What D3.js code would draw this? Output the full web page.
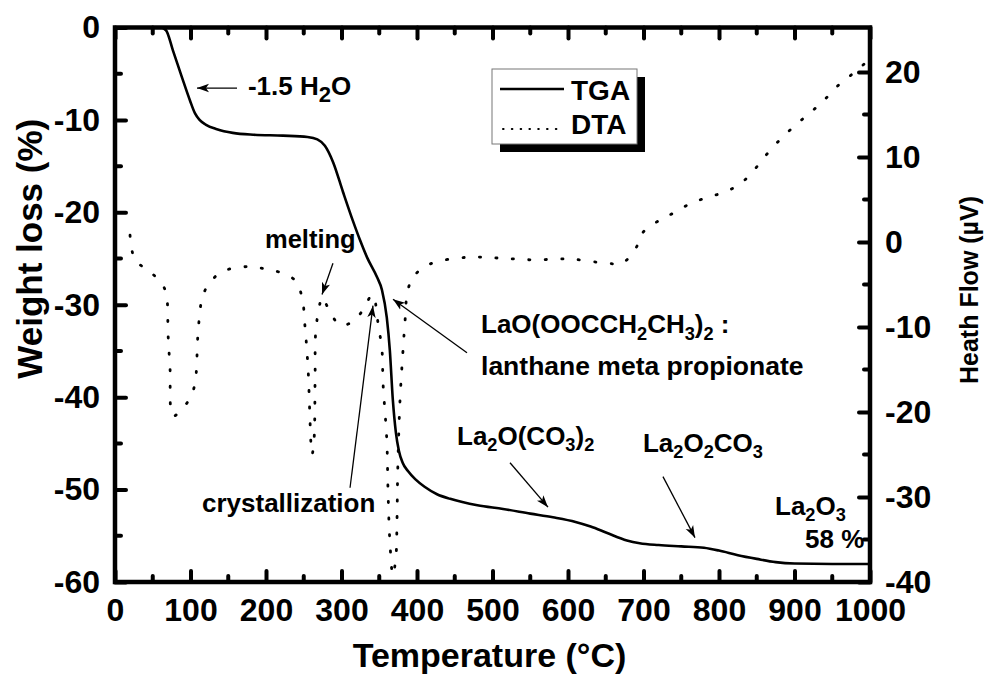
<!DOCTYPE html>
<html>
<head>
<meta charset="utf-8">
<script src="https://cdn.jsdelivr.net/npm/d3@7"></script>
<style>
  html, body { margin: 0; padding: 0; background: #fff; }
  svg { display: block; }
  text { font-family: "Liberation Sans", Arial, Helvetica, sans-serif; font-weight: bold; fill: #000; }
</style>
</head>
<body>
<svg id="chart" width="989" height="679"></svg>
<script>
// ---------------- data ----------------
const tgaTemp = [20, 60, 67.5, 76.8, 88.7, 99.3, 106, 112, 120, 135, 156, 183, 222.5, 255, 268, 278, 289, 302, 315, 324.5, 334, 347, 353.6, 360, 364, 368, 372, 376, 381, 388, 398, 410, 426.5, 444, 460, 480, 514, 550, 580, 610, 630, 652, 678, 695, 720, 750, 780, 800, 825, 850, 875, 900, 950, 1000];
const tgaWeight = [0, 0, -0.3, -2.5, -5.4, -7.9, -9.3, -10.0, -10.5, -11.0, -11.4, -11.6, -11.7, -11.85, -12.1, -12.8, -14.6, -17.8, -20.9, -23.0, -24.9, -27.0, -28.4, -31.4, -34.9, -40.3, -43.8, -45.8, -47.1, -48.0, -48.9, -49.7, -50.5, -51.0, -51.35, -51.7, -52.1, -52.6, -53.0, -53.5, -54.0, -54.7, -55.5, -55.8, -56.0, -56.15, -56.3, -56.6, -57.1, -57.5, -57.85, -58.0, -58.05, -58.05];

const dtaTemp = [19.9, 26.5, 46.4, 63.6, 68.9, 70.2, 72.8, 76.8, 88.7, 99.3, 106, 110, 115, 123, 141.7, 174.8, 196, 216, 238.4, 247.7, 251.7, 255.6, 261, 263.6, 265, 266, 271.5, 274, 284.8, 298, 314, 328.5, 340.4, 344, 348.3, 353.6, 355, 360, 361.6, 364, 368, 372, 373.5, 374.5, 377.5, 381.5, 384, 388, 397, 417, 466, 510, 553.6, 602.6, 651.7, 671.5, 690, 699, 722, 741.7, 764, 786.8, 808, 829, 847.7, 865, 884.8, 904.6, 924.5, 940.4, 957.6, 980, 986.8, 1000];
const dtaHeat = [0.8, -2.1, -3.5, -5.1, -6.8, -10.7, -14.7, -20.5, -19.6, -18.4, -16.6, -10.7, -6.8, -5.1, -3.5, -2.9, -3.1, -3.5, -4.5, -6.5, -10.0, -14.7, -25.0, -23.3, -16.2, -10.4, -7.2, -6.5, -8.2, -9.8, -9.4, -8.0, -6.2, -6.8, -9.5, -12.7, -16.6, -23.3, -29.2, -35.1, -39.2, -37.1, -32.7, -26.8, -18.6, -12.7, -9.5, -5.6, -3.9, -2.6, -1.8, -1.9, -2.1, -2.0, -2.5, -2.5, -0.7, 1.1, 2.6, 3.5, 4.6, 5.3, 5.9, 6.9, 8.6, 10.5, 12.4, 14.0, 15.5, 16.8, 18.4, 20.0, 20.5, 21.6];

const xTicks = [0, 100, 200, 300, 400, 500, 600, 700, 800, 900, 1000];
const xMinorTicks = [50, 150, 250, 350, 450, 550, 650, 750, 850, 950];
const yLeftTicks = [0, -10, -20, -30, -40, -50, -60];
const yLeftMinor = [-5, -15, -25, -35, -45, -55];
const yRightTicks = [20, 10, 0, -10, -20, -30, -40];
const yRightMinor = [25, 15, 5, -5, -15, -25, -35];

const xTitle = "Temperature (°C)";
const yLeftTitle = "Weight loss (%)";
const yRightTitle = "Heath Flow (µV)";
const seriesNames = ["TGA", "DTA"];

// ---------------- layout ----------------
const L = 115, R = 870, T = 27.5, B = 582;
const svg = d3.select("#chart");

const x = d3.scaleLinear().domain([0, 1000]).range([L, R]);
const yL = d3.scaleLinear().domain([-60, 0]).range([B, T]);
const yR = d3.scaleLinear().domain([-40, 20]).range([B, B - 510]);

// clip
svg.append("defs").append("clipPath").attr("id", "clip")
  .append("rect").attr("x", L).attr("y", T).attr("width", R - L).attr("height", B - T + 6);

// ---------------- curves ----------------
const tgaLine = d3.line().x((d, i) => x(tgaTemp[i])).y((d, i) => yL(tgaWeight[i])).curve(d3.curveMonotoneX);
svg.append("path").datum(tgaTemp).attr("d", tgaLine)
  .attr("fill", "none").attr("stroke", "#000").attr("stroke-width", 2.6)
  .attr("clip-path", "url(#clip)");

const dtaLine = d3.line().x((d, i) => x(dtaTemp[i])).y((d, i) => yR(dtaHeat[i])).curve(d3.curveCatmullRom.alpha(0.5));
svg.append("path").datum(dtaTemp).attr("d", dtaLine)
  .attr("fill", "none").attr("stroke", "#000").attr("stroke-width", 2.8)
  .attr("stroke-linecap", "round").attr("stroke-dasharray", "1.2,15.3")
  .attr("clip-path", "url(#clip)");

// ---------------- axes ----------------
const fmt = d => String(d);
function styleAxis(g) {
  g.select(".domain").remove();
  g.selectAll(".tick line").attr("stroke", "#000").attr("stroke-width", 4).attr("stroke-linecap", "round");
  g.selectAll(".tick text").attr("font-size", 32).attr("font-family", "'Liberation Sans', Arial, sans-serif").attr("font-weight", "bold");
}
svg.append("g").attr("transform", `translate(0,${B})`)
  .call(d3.axisBottom(x).tickValues(xTicks).tickFormat(fmt).tickSize(-11).tickPadding(16))
  .call(styleAxis);
svg.append("g").attr("transform", `translate(0,${T})`)
  .call(d3.axisTop(x).tickValues(xTicks).tickFormat("").tickSize(-11))
  .call(styleAxis);
svg.append("g").attr("transform", `translate(${L},0)`)
  .call(d3.axisLeft(yL).tickValues(yLeftTicks).tickFormat(fmt).tickSize(-11).tickPadding(15))
  .call(styleAxis);
svg.append("g").attr("transform", `translate(${R},0)`)
  .call(d3.axisRight(yR).tickValues(yRightTicks).tickFormat(fmt).tickSize(-11).tickPadding(15))
  .call(styleAxis);

// minor ticks
const minor = svg.append("g").attr("stroke", "#000").attr("stroke-width", 4).attr("stroke-linecap", "round");
xMinorTicks.forEach(v => {
  minor.append("line").attr("x1", x(v)).attr("x2", x(v)).attr("y1", B).attr("y2", B - 6);
  minor.append("line").attr("x1", x(v)).attr("x2", x(v)).attr("y1", T).attr("y2", T + 6);
});
yLeftMinor.forEach(v => {
  minor.append("line").attr("x1", L).attr("x2", L + 6).attr("y1", yL(v)).attr("y2", yL(v));
});
yRightMinor.filter(v => yR(v) > T + 3).forEach(v => {
  minor.append("line").attr("x1", R).attr("x2", R - 6).attr("y1", yR(v)).attr("y2", yR(v));
});

// frame
svg.append("rect").attr("x", L).attr("y", T).attr("width", R - L).attr("height", B - T)
  .attr("fill", "none").attr("stroke", "#000").attr("stroke-width", 4.5);

// ---------------- titles ----------------
svg.append("text").attr("x", (L + R) / 2 - 3).attr("y", 667).attr("text-anchor", "middle")
  .attr("font-size", 34).text(xTitle);
svg.append("text").attr("transform", `translate(42,${(T + B) / 2 - 56}) rotate(-90)`)
  .attr("text-anchor", "middle").attr("font-size", 35).text(yLeftTitle);
svg.append("text").attr("transform", `translate(978,${290}) rotate(-90)`)
  .attr("text-anchor", "middle").attr("font-size", 25).text(yRightTitle);

// ---------------- legend ----------------
const lg = svg.append("g");
lg.append("rect").attr("x", 500).attr("y", 77).attr("width", 145).attr("height", 75).attr("fill", "#000");
lg.append("rect").attr("x", 492).attr("y", 69).attr("width", 145).attr("height", 75)
  .attr("fill", "#fff").attr("stroke", "#777").attr("stroke-width", 1);
lg.append("line").attr("x1", 500).attr("x2", 564).attr("y1", 89).attr("y2", 89)
  .attr("stroke", "#000").attr("stroke-width", 2.6);
lg.append("line").attr("x1", 503).attr("x2", 558).attr("y1", 129).attr("y2", 129)
  .attr("stroke", "#000").attr("stroke-width", 2).attr("stroke-linecap", "round").attr("stroke-dasharray", "0.6,8.2");
lg.append("text").attr("x", 571).attr("y", 100).attr("font-size", 28).text(seriesNames[0]);
lg.append("text").attr("x", 571).attr("y", 134).attr("font-size", 28).text(seriesNames[1]);

// ---------------- annotations ----------------
svg.append("defs").append("marker").attr("id", "arr")
  .attr("viewBox", "0 0 10 10").attr("refX", 10).attr("refY", 5)
  .attr("markerWidth", 12).attr("markerHeight", 12).attr("markerUnits", "userSpaceOnUse")
  .attr("orient", "auto")
  .append("path").attr("d", "M0,1.5 L10,5 L0,8.5 L2.5,5 Z").attr("fill", "#000");

function arrow(t1, w1, t2, w2) {
  svg.append("line").attr("x1", x(t1)).attr("y1", yL(w1)).attr("x2", x(t2)).attr("y2", yL(w2))
    .attr("stroke", "#000").attr("stroke-width", 1.3).attr("marker-end", "url(#arr)");
}
// parts: array of [text, kind] where kind "n" normal, "s" subscript
function label(t, w, parts, size, subScale, subShift) {
  const tx = svg.append("text").attr("x", x(t)).attr("y", yL(w)).attr("font-size", size);
  let shifted = false;
  parts.forEach(([s, k]) => {
    const ts = tx.append("tspan").text(s);
    if (k === "s" && !shifted) { ts.attr("font-size", size * subScale).attr("dy", subShift); shifted = true; }
    else if (k === "s" && shifted) { ts.attr("font-size", size * subScale); }
    else if (k === "n" && shifted) { ts.attr("dy", -subShift); shifted = false; }
  });
  return tx;
}

arrow(161.6, -6.55, 108.6, -6.55);
label(176, -7.3, [["-1.5 H", "n"], ["2", "s"], ["O", "n"]], 26, 0.85, 7);

arrow(288.7, -25.5, 274.2, -28.9);
label(198.7, -23.9, [["melting", "n"]], 25.5, 1, 0);

arrow(311.3, -49.8, 341.7, -30.1);
label(115.2, -52.4, [["crystallization", "n"]], 26, 1, 0);

arrow(466.2, -35.2, 368.2, -29.4);
label(484.8, -33.1, [["LaO(OOCCH", "n"], ["2", "s"], ["CH", "n"], ["3", "s"], [")", "n"], ["2", "s"], [" :", "n"]], 26, 0.7, 7);
label(484.8, -37.6, [["lanthane meta propionate", "n"]], 26.5, 1, 0);

arrow(523.2, -47.1, 573.5, -51.9);
label(453, -45.2, [["La", "n"], ["2", "s"], ["O(CO", "n"], ["3", "s"], [")", "n"], ["2", "s"]], 26, 0.7, 6);

arrow(725.8, -48.6, 768.2, -55.2);
label(699.3, -45.9, [["La", "n"], ["2", "s"], ["O", "n"], ["2", "s"], ["CO", "n"], ["3", "s"]], 26, 0.7, 6);

label(874.2, -52.7, [["La", "n"], ["2", "s"], ["O", "n"], ["3", "s"]], 26, 0.7, 6);
label(913.9, -56.3, [["58 %", "n"]], 26, 1, 0);
</script>
</body>
</html>
